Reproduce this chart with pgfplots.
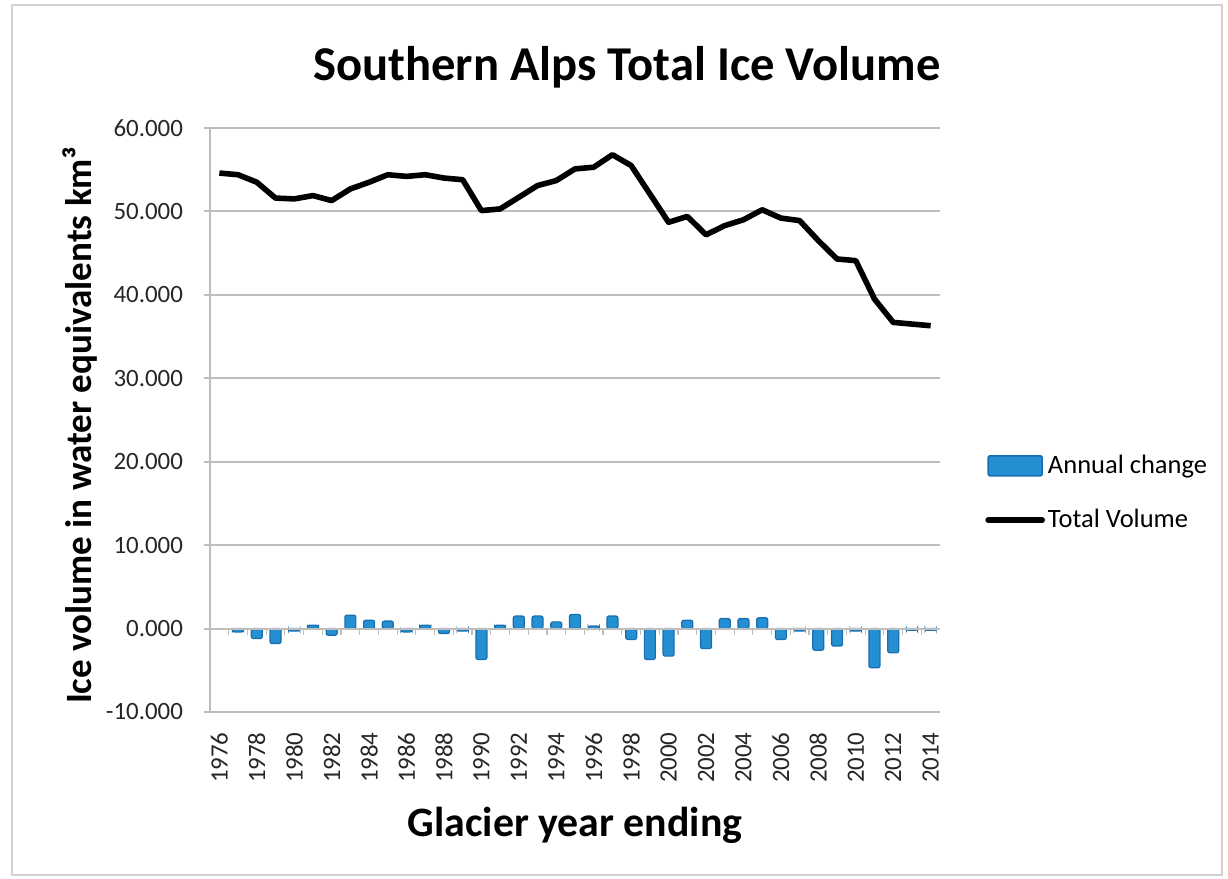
\documentclass[border=0pt]{standalone}
\usepackage{fontspec}
\setmainfont{Carlito}
\usepackage{pgfplots}
\pgfplotsset{compat=1.18}
\definecolor{gridc}{RGB}{190,190,190}
\definecolor{barfill}{RGB}{36,143,209}
\definecolor{bardraw}{RGB}{25,110,175}
\begin{document}
\begin{tikzpicture}
\path[use as bounding box] (0bp,0bp) rectangle (614bp,439.5bp);
\draw[gridc!70, line width=1bp] (6bp,2bp) rectangle (611bp,437bp);
\begin{axis}[
  at={(105bp,83.5bp)}, anchor=south west,
  scale only axis, width=365bp, height=292bp,
  xmin=1975.5, xmax=2014.5, ymin=-10, ymax=60,
  axis x line*=bottom, axis y line*=left,
  axis line style={gridc, line width=1bp, -},
  xtick={1976,1978,...,2014},
  xticklabel style={rotate=90, anchor=east, font=\fontsize{12.5}{13}\selectfont, inner sep=1bp, xshift=-6bp, text=black!85},
  xticklabels={1976,1978,1980,1982,1984,1986,1988,1990,1992,1994,1996,1998,2000,2002,2004,2006,2008,2010,2012,2014},
  ytick={-10,0,10,20,30,40,50,60},
  yticklabels={-10.000,0.000,10.000,20.000,30.000,40.000,50.000,60.000},
  yticklabel style={font=\fontsize{12.5}{13}\selectfont, text=black!85, xshift=-7bp},
  ymajorgrids, grid style={gridc, line width=1bp},
  x tick style={draw=none},
  y tick style={gridc, line width=1bp}, tick align=outside, major tick length=3bp,
  title={Southern Alps Total Ice Volume},
  title style={font=\bfseries\fontsize{24.4}{28}\selectfont, at={(0.571,1.083)}, anchor=center},
  xlabel={Glacier year ending},
  xlabel style={font=\bfseries\fontsize{21}{24}\selectfont, at={(0.5,-0.194)}, anchor=center},
  ylabel={Ice volume in water equivalents km³},
  ylabel style={font=\bfseries\fontsize{18.6}{21}\selectfont, at={(-0.178,0.491)}, anchor=center, rotate=0},
  legend style={at={(1,0.375)}, anchor=west, xshift=22.5bp, draw=none, fill=none,
    font=\fontsize{13.3}{15}\selectfont, row sep=12.5bp, inner sep=0pt,
    nodes={inner xsep=1.5bp}},
  legend cell align=left,
]
\addplot[ybar, bar width=5.5bp, fill=barfill, draw=bardraw, line width=0.6bp, rounded corners=1bp,
  legend image code/.code={\fill[barfill, draw=bardraw, line width=0.8bp, rounded corners=1bp] (0bp,-5bp) rectangle (27bp,5bp);}]
coordinates {
(1977,-0.4) (1978,-1.2) (1979,-1.8) (1980,-0.3) (1981,0.4) (1982,-0.8) (1983,1.6) (1984,1.0)
(1985,0.9) (1986,-0.4) (1987,0.4) (1988,-0.6) (1989,-0.3) (1990,-3.7) (1991,0.4) (1992,1.5)
(1993,1.5) (1994,0.8) (1995,1.7) (1996,0.3) (1997,1.5) (1998,-1.3) (1999,-3.7) (2000,-3.3)
(2001,1.0) (2002,-2.4) (2003,1.2) (2004,1.2) (2005,1.3) (2006,-1.3) (2007,-0.3) (2008,-2.6)
(2009,-2.1) (2010,-0.3) (2011,-4.7) (2012,-2.9) (2013,-0.2) (2014,-0.2)
};
\addlegendentry{Annual change}
\addplot[black, line width=2.8bp, line join=round, mark=none,
  legend image code/.code={\draw[black, line width=2.8bp, line cap=round] (0bp,0bp) -- (27bp,0bp);}]
coordinates {
(1976,54.6) (1977,54.4) (1978,53.5) (1979,51.6) (1980,51.5) (1981,51.9) (1982,51.3) (1983,52.7)
(1984,53.5) (1985,54.4) (1986,54.2) (1987,54.4) (1988,54.0) (1989,53.8) (1990,50.1) (1991,50.3)
(1992,51.7) (1993,53.1) (1994,53.7) (1995,55.1) (1996,55.3) (1997,56.8) (1998,55.5) (1999,52.1)
(2000,48.7) (2001,49.4) (2002,47.2) (2003,48.3) (2004,49.0) (2005,50.2) (2006,49.2) (2007,48.9)
(2008,46.5) (2009,44.3) (2010,44.1) (2011,39.5) (2012,36.7) (2013,36.5) (2014,36.3)
};
\addlegendentry{Total Volume}
\end{axis}
\begin{axis}[
  at={(105bp,83.5bp)}, anchor=south west,
  scale only axis, width=365bp, height=292bp,
  xmin=1975.5, xmax=2014.5, ymin=-10, ymax=60,
  axis x line*=middle, axis y line=none,
  axis line style={gridc, line width=1bp, -},
  xtick={1976.5,1977.5,...,2013.5}, xticklabels={},
  ytick=\empty,
  tick style={gridc, line width=0.6bp}, tick align=outside, major tick length=3bp,
]
\end{axis}
\end{tikzpicture}
\end{document}
